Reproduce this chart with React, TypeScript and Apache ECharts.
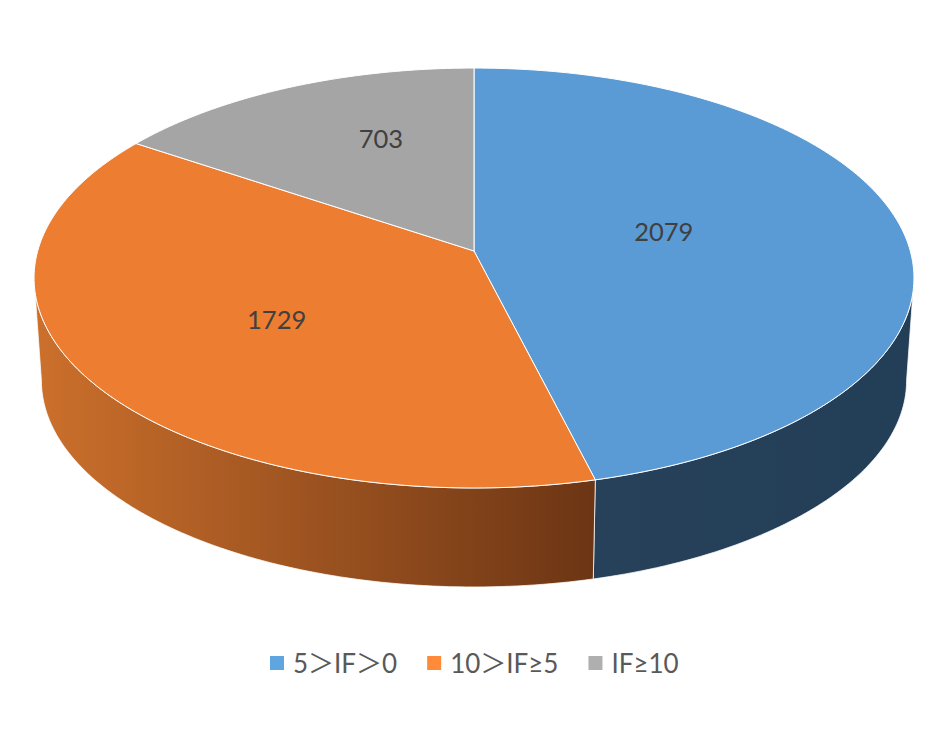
import React, { useEffect, useRef } from "react";
import * as echarts from "echarts";

const categories = ["5＞IF＞0", "10＞IF≥5", "IF≥10"];
const values = [2079, 1729, 703];
const topColors = ["#5B9BD5", "#ED7D31", "#A5A5A5"];
const legendColors = ["#5FA5E0", "#FF8A3A", "#AFAFAF"];
const labelNudges = [[-25, -7], [-12, 6], [4, -27]];

const PERSPECTIVE = 0.1286;
const CX = 474;
const TOP_DISC = { y: 251, rx: 436.3, ry: 206.5 };
const BOTTOM_DISC = { y: 354, rx: 429, ry: 203 };
const FRONT_START = 97.4;
const FRONT_END = 262.6;

const total = values.reduce((a, b) => a + b, 0);
const startAngle = (i: number) =>
  (values.slice(0, i).reduce((a, b) => a + b, 0) / total) * 360;

function project(disc: { y: number; rx: number; ry: number }, deg: number, r = 1): number[] {
  const a = (deg * Math.PI) / 180;
  const u = Math.sin(a) * r;
  const v = Math.cos(a) * r;
  const w = 1 + PERSPECTIVE * v;
  return [CX + (disc.rx * u) / w, disc.y - (disc.ry * v) / w];
}

function arc(disc: { y: number; rx: number; ry: number }, from: number, to: number): number[][] {
  const n = Math.max(2, Math.ceil(Math.abs(to - from)));
  const pts: number[][] = [];
  for (let k = 0; k <= n; k++) pts.push(project(disc, from + ((to - from) * k) / n));
  return pts;
}

function sideFill(i: number): any {
  if (i === 0) {
    return new echarts.graphic.LinearGradient(0, 0, 1, 0, [
      { offset: 0, color: "#264159" },
      { offset: 1, color: "#233E57" },
    ]);
  }
  return new echarts.graphic.LinearGradient(0, 0, 1, 0, [
    { offset: 0, color: "#CC702C" },
    { offset: 1, color: "#6C3514" },
  ]);
}

function sliceRenderer(i: number) {
  return () => {
    const a0 = startAngle(i);
    const a1 = startAngle(i + 1);
    const children: any[] = [];
    const f0 = Math.max(a0, FRONT_START);
    const f1 = Math.min(a1, FRONT_END);
    if (f1 > f0) {
      children.push({
        type: "polygon",
        z2: 1,
        shape: { points: [...arc(TOP_DISC, f0, f1), ...arc(BOTTOM_DISC, f1, f0)] },
        style: { fill: sideFill(i), stroke: "rgba(255,255,255,0.75)", lineWidth: 1 },
      });
    }
    children.push({
      type: "polygon",
      z2: 2,
      shape: { points: [project(TOP_DISC, 0, 0), ...arc(TOP_DISC, a0, a1)] },
      style: { fill: topColors[i], stroke: "#FFFFFF", lineWidth: 1 },
    });
    const [lx, ly] = project(TOP_DISC, (a0 + a1) / 2, 0.5);
    children.push({
      type: "text",
      z2: 3,
      x: lx + labelNudges[i][0],
      y: ly + labelNudges[i][1],
      style: {
        text: String(values[i]),
        fill: "#404040",
        font: "25.5px Lato, sans-serif",
        align: "center",
        verticalAlign: "middle",
      },
    });
    return { type: "group", children };
  };
}

export default function App() {
  const ref = useRef<HTMLDivElement>(null);
  useEffect(() => {
    const chart = echarts.init(ref.current!, undefined, { renderer: "svg" });
    chart.setOption({
      animation: false,
      backgroundColor: "#FFFFFF",
      color: legendColors,
      legend: {
        data: categories,
        left: 265,
        top: 645,
        icon: "rect",
        itemWidth: 14,
        itemHeight: 14,
        itemGap: 30,
        selectedMode: false,
        textStyle: {
          color: "#595959",
          fontSize: 26,
          fontFamily: "Lato, 'Noto Sans CJK SC', sans-serif",
          padding: [0, 0, 0, 4],
        },
      },
      series: categories.map((name, i) => ({
        type: "custom",
        name,
        coordinateSystem: "none",
        itemStyle: { color: legendColors[i] },
        data: [values[i]],
        renderItem: sliceRenderer(i),
        silent: true,
      })),
    });
    return () => chart.dispose();
  }, []);
  return (
    <div
      ref={ref}
      style={{ position: "absolute", left: 0, top: 0, width: 944, height: 733 }}
    />
  );
}
